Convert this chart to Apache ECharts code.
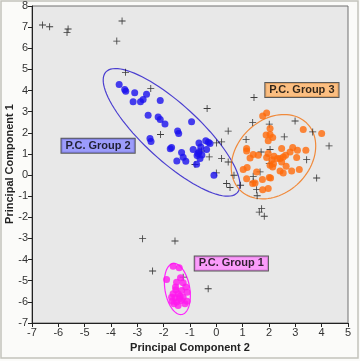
<!DOCTYPE html>
<html><head><meta charset="utf-8">
<script src="https://cdn.jsdelivr.net/npm/echarts@6/dist/echarts.min.js"></script>
<style>html,body{margin:0;padding:0;background:#fff}#c{width:360px;height:361px}</style>
</head><body><div id="c"></div>
<script>
// ---- data ----
var xTicks = [-7,-6,-5,-4,-3,-2,-1,0,1,2,3,4,5];
var yTicks = [-7,-6,-5,-4,-3,-2,-1,0,1,2,3,4,5,6,7,8];
var group2 = [[-3.69,4.29],[-3.48,4.05],[-3.44,3.97],[-3.10,3.89],[-2.65,3.83],[-2.78,3.58],[-2.88,3.47],[-3.16,3.47],[-2.13,3.53],[-2.59,2.83],[-2.21,2.75],[-2.13,2.63],[-1.95,2.42],[-0.94,2.52],[-1.47,2.08],[-1.43,1.97],[-2.52,1.73],[-2.48,1.59],[-1.70,1.30],[-1.75,1.24],[-1.32,1.07],[-1.26,0.84],[-1.50,0.67],[-1.16,0.65],[-0.88,1.21],[-0.66,1.52],[-0.40,1.62],[-0.24,1.49],[-0.59,1.33],[-0.37,1.21],[-0.65,1.10],[-0.73,0.92],[-0.62,0.78],[-0.75,0.51],[-0.09,-0.01],[-0.55,0.95],[-0.70,1.02],[-0.30,1.55]];
var group3 = [[1.76,2.79],[1.91,2.94],[2.04,2.20],[1.89,1.89],[2.04,1.92],[2.14,1.78],[1.97,1.62],[3.30,2.16],[4.00,1.97],[1.15,1.26],[1.15,1.14],[1.40,0.97],[1.28,0.81],[1.59,0.94],[1.97,1.02],[2.19,0.89],[2.48,1.26],[2.90,1.30],[3.08,1.18],[3.40,1.18],[2.80,1.09],[2.63,0.94],[2.54,0.86],[2.42,0.78],[2.32,0.78],[2.11,0.73],[2.17,0.54],[2.04,0.46],[2.14,0.38],[2.48,0.62],[2.65,0.42],[3.05,0.83],[3.15,0.26],[2.86,0.19],[2.42,0.19],[2.54,0.10],[1.02,0.26],[1.17,0.36],[1.53,0.15],[1.15,-0.17],[1.75,-0.21],[2.01,-0.12],[2.06,-0.14],[1.47,-0.37],[1.76,-0.69],[1.97,-0.64],[1.91,0.83],[1.38,-0.40]];
var group1 = [[-1.64,-4.32],[-1.41,-4.38],[-1.89,-4.94],[-1.36,-4.86],[-1.51,-5.07],[-1.26,-5.10],[-1.16,-5.30],[-1.54,-5.43],[-1.32,-5.46],[-1.11,-5.54],[-1.64,-5.62],[-1.45,-5.62],[-1.70,-5.78],[-1.57,-5.81],[-1.38,-5.74],[-1.26,-5.78],[-1.68,-5.97],[-1.51,-6.01],[-1.32,-5.93],[-1.19,-6.09],[-1.11,-5.97],[-1.45,-6.17],[-1.61,-6.09],[-1.40,-5.85],[-1.55,-5.30]];
var ungrouped = [[-6.60,7.10],[-6.33,7.02],[-5.63,6.91],[-5.67,6.75],[-3.58,7.29],[-3.78,6.34],[-3.45,4.86],[-2.49,4.10],[-2.12,1.92],[1.43,3.67],[-0.35,3.15],[0.45,2.08],[1.38,2.49],[2.99,2.56],[3.66,2.04],[4.28,1.38],[1.13,1.68],[2.58,1.81],[0.01,1.52],[0.20,1.57],[2.04,1.21],[-0.27,0.86],[0.20,0.78],[0.45,0.62],[1.70,1.09],[-0.56,1.14],[-0.81,0.50],[2.01,0.54],[3.43,0.73],[0.67,-0.01],[1.40,-0.06],[3.81,-0.14],[2.01,2.41],[1.66,0.15],[0.39,-0.40],[0.52,-0.59],[0.92,-0.48],[1.40,-0.33],[1.53,-0.69],[1.55,-0.98],[1.72,-1.59],[1.63,-1.75],[1.82,-1.95],[-1.26,-4.83],[-0.31,-5.38],[-2.80,-3.01],[-1.57,-3.12],[-2.42,-4.54],[0.0,0.1]];
// ellipses: centre x, centre y, semi-axis A (dx,dy), conjugate semi-axis B (dx,dy)
var ellipse2 = [-1.70, 2.02, 2.50, -2.85, -0.70, -1.00];
var ellipse3 = [2.17, 0.87, 1.27, 1.58, 0.98, -1.22];
var ellipse1 = [-1.48, -5.39, -0.13, 1.21, 0.475, 0.0];
var groupLabels = ['P.C. Group 1','P.C. Group 2','P.C. Group 3'];
var labelPos = [[0.57,-4.18],[-4.49,1.39],[3.25,4.03]];
var xTitle = 'Principal Component 2';
var yTitle = 'Principal Component 1';

var FONT = '"Liberation Sans", Arial, sans-serif';
var chart = echarts.init(document.getElementById('c'), null, {renderer:'canvas'});

function ellipseSeries(e, color){
  return {
    type:'custom', coordinateSystem:'cartesian2d', silent:true, z:3,
    encode:{x:0,y:1},
    data:[e],
    renderItem:function(params, api){
      var cx=api.value(0), cy=api.value(1), ax=api.value(2), ay=api.value(3), bx=api.value(4), by=api.value(5);
      var pts=[];
      for(var i=0;i<=96;i++){
        var t=i/96*Math.PI*2, c=Math.cos(t), s=Math.sin(t);
        pts.push(api.coord([cx+ax*c+bx*s, cy+ay*c+by*s]));
      }
      return {type:'polyline', shape:{points:pts}, style:{stroke:color, lineWidth:1.2, fill:null}};
    }
  };
}
var plusPath = 'path://M4.4,0h1.2v4.4h4.4v1.2h-4.4v4.4h-1.2v-4.4h-4.4v-1.2h4.4z';
var labelColors = ['#ff88ff','#8888ff','#ffb366'];

chart.setOption({
  animation:false,
  backgroundColor:'#fbfbf9',
  graphic:[
    {type:'rect', shape:{x:1,y:1,width:357,height:357}, style:{fill:null, stroke:'#c4c4bc', lineWidth:1.5}, z:-1},
    {type:'text', x:10, y:164, rotation:Math.PI/2, z:10,
     style:{text:yTitle, font:'bold 11px "Liberation Sans", Arial, sans-serif', fill:'#222', align:'center', verticalAlign:'middle'}}
  ],
  grid:{left:32,right:12,top:6,bottom:38,outerBoundsMode:'none',containLabel:false,show:true,backgroundColor:'#e8e8e8',borderColor:'#707070',borderWidth:1},
  xAxis:{type:'value',min:-7,max:5,interval:1,
    name:xTitle,nameLocation:'middle',nameGap:19,
    nameTextStyle:{fontFamily:FONT,fontSize:11,fontWeight:'bold',color:'#222'},
    axisLine:{onZero:false,lineStyle:{color:'#222',width:1}},
    axisTick:{show:true,length:4,lineStyle:{color:'#222'}},
    axisLabel:{fontFamily:FONT,fontSize:11,color:'#333',margin:4},
    splitLine:{show:false}},
  yAxis:{type:'value',min:-7,max:8,interval:1,
    axisLine:{onZero:false,lineStyle:{color:'#222',width:1}},
    axisTick:{show:true,length:4,lineStyle:{color:'#222'}},
    axisLabel:{fontFamily:FONT,fontSize:11,color:'#333',margin:4},
    splitLine:{show:false}},
  series:[
    ellipseSeries(ellipse2,'#4b3fd0'),
    ellipseSeries(ellipse3,'#f08a3c'),
    ellipseSeries(ellipse1,'#ff22ff'),
    {type:'scatter',data:ungrouped,symbol:plusPath,symbolSize:7,itemStyle:{color:'#111'},z:4},
    {type:'scatter',data:group2,symbol:'circle',symbolSize:7,itemStyle:{color:'#1a10ee'},z:5},
    {type:'scatter',data:group3,symbol:'circle',symbolSize:7,itemStyle:{color:'#ff6a0a'},z:5},
    {type:'scatter',data:group1,symbol:'circle',symbolSize:7,itemStyle:{color:'#ff18ee'},z:5},
    {type:'scatter',z:6,symbolSize:1,itemStyle:{color:'rgba(0,0,0,0)'},
     data:groupLabels.map(function(n,i){return {value:labelPos[i], name:n, label:{backgroundColor:labelColors[i]}};}),
     label:{show:true,position:'inside',formatter:'{b}',fontFamily:FONT,fontSize:11,fontWeight:'bold',color:'#000',
       borderColor:'#333',borderWidth:1,padding:[2,4,1,4]}}
  ]
});
</script></body></html>
